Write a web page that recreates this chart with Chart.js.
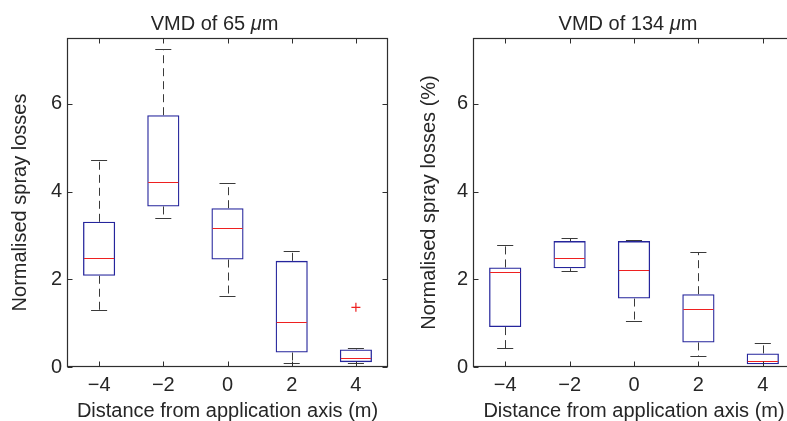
<!DOCTYPE html>
<html>
<head>
<meta charset="utf-8">
<script src="https://cdn.jsdelivr.net/npm/chart.js@4.4.1/dist/chart.umd.min.js"></script>
<style>
  html, body { margin: 0; padding: 0; background: #fff; overflow: hidden; }
  #wrap { position: relative; width: 787px; height: 421px; overflow: hidden; }
  .pane { position: absolute; top: 0; width: 400px; height: 421px; }
  #left { left: 0; }
  #right { left: 400px; }
</style>
</head>
<body>
<div id="wrap">
  <div class="pane" id="left"><canvas id="chart65"></canvas></div>
  <div class="pane" id="right"><canvas id="chart134"></canvas></div>
</div>
<script>
// distances from the application axis (m)
var positions = [-4, -2, 0, 2, 4];
var yTicks = [0, 2, 4, 6];

// VMD of 65 um
var low65 = [1.30, 3.40, 1.62, 0.09, 0.08];
var q1_65 = [2.08, 3.66, 2.45, 0.33, 0.11];
var med65 = [2.48, 4.21, 3.18, 1.03, 0.21];
var q3_65 = [3.31, 5.74, 3.62, 2.42, 0.40];
var high65 = [4.71, 7.25, 4.19, 2.64, 0.43];
var outX65 = [4];
var outY65 = [1.36];

// VMD of 134 um
var low134 = [0.43, 2.19, 1.04, 0.24, 0.02];
var q1_134 = [0.91, 2.25, 1.56, 0.56, 0.06];
var med134 = [2.16, 2.48, 2.21, 1.33, 0.13];
var q3_134 = [2.27, 2.87, 2.87, 1.66, 0.31];
var high134 = [2.79, 2.93, 2.90, 2.63, 0.54];
var outX134 = [];
var outY134 = [];

var FONT = '"Liberation Sans", Arial, Helvetica, sans-serif';
var TEXT = '#262626';
var AXIS = '#2e2e2e';
var BLUE = '#25259c';
var RED = '#ee2020';
var WHISK = '#3a3a3a';

Chart.defaults.font.family = FONT;
Chart.defaults.color = TEXT;

// whiskers, caps and medians drawn through the chart scales
var boxExtras = {
  id: 'boxExtras',
  afterDatasetsDraw: function(chart) {
    var o = chart.options.plugins.boxExtras;
    var xs = chart.scales.x, ys = chart.scales.y, ctx = chart.ctx;
    ctx.save();
    ctx.lineWidth = 1;
    o.pos.forEach(function(p, i) {
      var px = Math.round(xs.getPixelForValue(p)) + 0.5;
      var cl = xs.getPixelForValue(p - 0.25), cr = xs.getPixelForValue(p + 0.25);
      var bl = xs.getPixelForValue(p - 0.5), br = xs.getPixelForValue(p + 0.5);
      var yq1 = ys.getPixelForValue(o.q1[i]), yq3 = ys.getPixelForValue(o.q3[i]);
      var ylo = Math.round(ys.getPixelForValue(o.low[i])) + 0.5;
      var yhi = Math.round(ys.getPixelForValue(o.high[i])) + 0.5;
      ctx.strokeStyle = WHISK;
      ctx.setLineDash([8, 5]);
      ctx.beginPath();
      ctx.moveTo(px, yq3); ctx.lineTo(px, yhi);
      ctx.moveTo(px, yq1); ctx.lineTo(px, ylo);
      ctx.stroke();
      ctx.setLineDash([]);
      ctx.beginPath();
      ctx.moveTo(cl, yhi); ctx.lineTo(cr, yhi);
      ctx.moveTo(cl, ylo); ctx.lineTo(cr, ylo);
      ctx.stroke();
      var ym = Math.round(ys.getPixelForValue(o.med[i])) + 0.5;
      ctx.strokeStyle = RED;
      ctx.beginPath();
      ctx.moveTo(bl + 1, ym); ctx.lineTo(br - 1, ym);
      ctx.stroke();
    });
    ctx.restore();
  }
};

// box frame with inward ticks on all four sides
var frame = {
  id: 'frame',
  afterDraw: function(chart) {
    var a = chart.chartArea, xs = chart.scales.x, ys = chart.scales.y, ctx = chart.ctx;
    var L = Math.round(a.left) + 0.5, R = Math.round(a.right) - 0.5;
    var T = Math.round(a.top) + 0.5, B = Math.round(a.bottom) - 0.5;
    ctx.save();
    ctx.strokeStyle = AXIS;
    ctx.lineWidth = 1.2;
    ctx.strokeRect(L, T, R - L, B - T);
    ctx.lineWidth = 1;
    ctx.beginPath();
    xs.ticks.forEach(function(t) {
      var px = Math.round(xs.getPixelForValue(t.value)) + 0.5;
      ctx.moveTo(px, B); ctx.lineTo(px, B - 5);
      ctx.moveTo(px, T); ctx.lineTo(px, T + 5);
    });
    ys.ticks.forEach(function(t) {
      var py = Math.round(ys.getPixelForValue(t.value)) + 0.5;
      ctx.moveTo(L, py); ctx.lineTo(L + 5, py);
      ctx.moveTo(R, py); ctx.lineTo(R - 5, py);
    });
    ctx.stroke();
    ctx.restore();
  }
};

// axes title with an italic mu, as in the figure
var axTitle = {
  id: 'axTitle',
  afterDraw: function(chart) {
    var o = chart.options.plugins.axTitle, a = chart.chartArea, ctx = chart.ctx;
    var parts = [[o.before, '20px ' + FONT], ['\u03bc', 'italic 20px ' + FONT], ['m', '20px ' + FONT]];
    ctx.save();
    var total = 0;
    parts.forEach(function(p) { ctx.font = p[1]; total += ctx.measureText(p[0]).width; });
    var x = (a.left + a.right) / 2 + o.shift - total / 2;
    ctx.fillStyle = TEXT;
    ctx.textBaseline = 'alphabetic';
    parts.forEach(function(p) {
      ctx.font = p[1];
      ctx.fillText(p[0], x, 30);
      x += ctx.measureText(p[0]).width;
    });
    ctx.restore();
  }
};

function makeChart(id, cfg) {
  var boxes = cfg.pos.map(function(p, i) { return { x: p, y: [cfg.q1[i], cfg.q3[i]] }; });
  var outs = cfg.outX.map(function(v, i) { return { x: v, y: cfg.outY[i] }; });
  return new Chart(document.getElementById(id), {
    type: 'bar',
    data: {
      datasets: [{
        label: 'IQR',
        data: boxes,
        backgroundColor: 'rgba(0,0,0,0)',
        borderColor: BLUE,
        borderWidth: 1.3,
        borderSkipped: false,
        barPercentage: 0.5,
        categoryPercentage: 1.0
      }, {
        type: 'scatter',
        label: 'Outliers',
        data: outs,
        pointStyle: 'cross',
        radius: 4.5,
        borderColor: RED,
        borderWidth: 1.2
      }]
    },
    options: {
      responsive: true,
      maintainAspectRatio: false,
      animation: false,
      layout: { padding: { top: 38, right: cfg.padRight, left: 0, bottom: 0 } },
      plugins: {
        legend: { display: false },
        tooltip: { enabled: false },
        boxExtras: { pos: cfg.pos, low: cfg.low, q1: cfg.q1, med: cfg.med, q3: cfg.q3, high: cfg.high },
        axTitle: { before: cfg.title, shift: cfg.titleShift }
      },
      scales: {
        x: {
          type: 'linear',
          min: -5,
          max: 5,
          offset: false,
          afterBuildTicks: function(s) { s.ticks = positions.map(function(v) { return { value: v }; }); },
          grid: { display: false, drawTicks: false, offset: false },
          border: { display: false },
          ticks: {
            font: { size: 20 },
            padding: 6,
            maxRotation: 0,
            autoSkip: false,
            callback: function(v) { return v < 0 ? '\u2212' + (-v) : String(v); }
          },
          title: {
            display: true,
            text: 'Distance from application axis (m)',
            font: { size: 20, lineHeight: 1 },
            padding: { top: 0, bottom: 0 }
          },
          afterFit: function(s) { s.height = 54; }
        },
        y: {
          type: 'linear',
          min: 0,
          max: 7.5,
          afterBuildTicks: function(s) { s.ticks = yTicks.map(function(v) { return { value: v }; }); },
          grid: { display: false, drawTicks: false },
          border: { display: false },
          ticks: { font: { size: 20 }, padding: 5 },
          title: {
            display: true,
            text: cfg.yTitle,
            font: { size: 20, lineHeight: 1 },
            padding: { top: cfg.yTitlePad, bottom: 0 }
          },
          afterFit: function(s) { s.width = cfg.yWidth; }
        }
      }
    },
    plugins: [boxExtras, frame, axTitle]
  });
}

makeChart('chart65', {
  pos: positions, low: low65, q1: q1_65, med: med65, q3: q3_65, high: high65,
  outX: outX65, outY: outY65,
  title: 'VMD of 65 ', titleShift: -13,
  yTitle: 'Normalised spray losses', yTitlePad: 10, yWidth: 67, padRight: 12
});

// the right axes runs past the 787px edge (clipped by #wrap), as in the original crop
makeChart('chart134', {
  pos: positions, low: low134, q1: q1_134, med: med134, q3: q3_134, high: high134,
  outX: outX134, outY: outY134,
  title: 'VMD of 134 ', titleShift: -6,
  yTitle: 'Normalised spray losses (%)', yTitlePad: 19, yWidth: 73, padRight: 5
});
</script>
</body>
</html>
